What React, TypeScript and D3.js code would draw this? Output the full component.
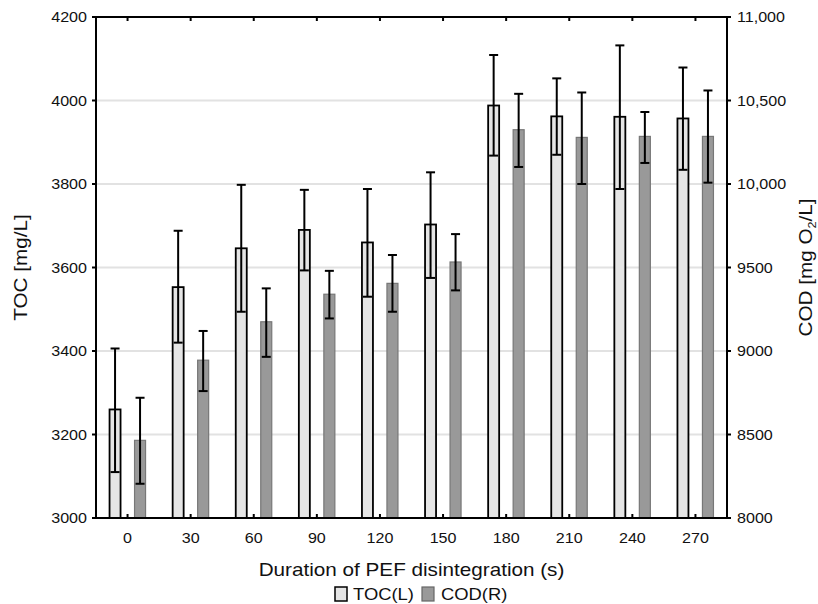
import React from "react";
import * as d3 from "d3";

// durations of PEF disintegration (s)
const categories = ["0", "30", "60", "90", "120", "150", "180", "210", "240", "270"];

// TOC, left axis (mg/L): mean and error bar ends
const toc = [3260, 3553, 3646, 3690, 3660, 3703, 3988, 3962, 3961, 3957];
const tocLo = [3110, 3420, 3494, 3593, 3530, 3575, 3868, 3870, 3788, 3834];
const tocHi = [3406, 3688, 3798, 3786, 3788, 3828, 4109, 4053, 4132, 4079];

// COD, right axis (mg O2/L)
const cod = [8465, 8945, 9175, 9340, 9405, 9533, 10325, 10279, 10285, 10285];
const codLo = [8205, 8760, 8965, 9195, 9235, 9363, 10102, 10000, 10126, 10008];
const codHi = [8720, 9120, 9375, 9480, 9575, 9700, 10540, 10548, 10431, 10560];

const leftTicks = [3000, 3200, 3400, 3600, 3800, 4000, 4200];
const rightTicks = [8000, 8500, 9000, 9500, 10000, 10500, 11000];

const W = 818;
const H = 604;
const m = { left: 96, right: 727, top: 17, bottom: 518 };
const FONT = "'Liberation Sans', Arial, sans-serif";
const SX = 1.15; // text looks a bit wider than plain Arial

const x = d3.scaleBand().domain(categories).range([m.left, m.right]).padding(0);
const yL = d3.scaleLinear().domain([3000, 4200]).range([m.bottom, m.top]);
const yR = d3.scaleLinear().domain([8000, 11000]).range([m.bottom, m.top]);

const fmtR = (v: number) => (v >= 10000 ? d3.format(",")(v) : String(v));

const barW = 11;
const offset = 12.5;
const capW = 9;

function T({ x, y, size, anchor = "start", rotate = 0, children }: any) {
  return (
    <text
      transform={`translate(${x},${y}) rotate(${rotate}) scale(${SX},1)`}
      fontSize={size}
      fontFamily={FONT}
      textAnchor={anchor}
      fill="#111"
    >
      {children}
    </text>
  );
}

function ErrBar({ cx, lo, hi }: { cx: number; lo: number; hi: number }) {
  return (
    <g stroke="#000" strokeWidth={2}>
      <line x1={cx} x2={cx} y1={lo} y2={hi} />
      <line x1={cx - capW / 2} x2={cx + capW / 2} y1={lo} y2={lo} />
      <line x1={cx - capW / 2} x2={cx + capW / 2} y1={hi} y2={hi} />
    </g>
  );
}

export default function App() {
  const bw = x.bandwidth();
  return (
    <svg
      width={W}
      height={H}
      style={{ position: "absolute", left: 0, top: 0, background: "#fff" }}
    >
      {/* grid */}
      {leftTicks.slice(1, -1).map((t) => (
        <line key={t} x1={m.left} x2={m.right} y1={yL(t)} y2={yL(t)} stroke="#e2e2e2" strokeWidth={2} />
      ))}

      {/* bars */}
      {categories.map((c, i) => {
        const cx = (x(c) as number) + bw / 2;
        const tx = cx - offset;
        const rx = cx + offset;
        return (
          <g key={c}>
            <rect
              x={tx - barW / 2}
              y={yL(toc[i])}
              width={barW}
              height={m.bottom - yL(toc[i])}
              fill="#e5e5e5"
              stroke="#000"
              strokeWidth={1.8}
            />
            <rect
              x={rx - barW / 2}
              y={yR(cod[i])}
              width={barW}
              height={m.bottom - yR(cod[i])}
              fill="#999"
              stroke="#777"
              strokeWidth={1.2}
            />
            <ErrBar cx={tx} lo={yL(tocLo[i])} hi={yL(tocHi[i])} />
            <ErrBar cx={rx} lo={yR(codLo[i])} hi={yR(codHi[i])} />
          </g>
        );
      })}

      {/* frame */}
      <rect
        x={m.left}
        y={m.top}
        width={m.right - m.left}
        height={m.bottom - m.top}
        fill="none"
        stroke="#000"
        strokeWidth={2}
      />

      {/* category ticks, inside top and bottom */}
      {categories.map((c) => {
        const cx = (x(c) as number) + bw / 2;
        return (
          <g key={c} stroke="#000" strokeWidth={2}>
            <line x1={cx} x2={cx} y1={m.top} y2={m.top + 4} />
            <line x1={cx} x2={cx} y1={m.bottom} y2={m.bottom - 4} />
          </g>
        );
      })}

      {/* left axis */}
      {leftTicks.map((t) => (
        <g key={t}>
          <line x1={m.left - 4} x2={m.left} y1={yL(t)} y2={yL(t)} stroke="#000" strokeWidth={2} />
          <T x={m.left - 9} y={yL(t) + 5} size={14} anchor="end">
            {t}
          </T>
        </g>
      ))}

      {/* right axis */}
      {rightTicks.map((t) => (
        <g key={t}>
          <line x1={m.right} x2={m.right + 4} y1={yR(t)} y2={yR(t)} stroke="#000" strokeWidth={2} />
          <T x={m.right + 10} y={yR(t) + 5} size={14}>
            {fmtR(t)}
          </T>
        </g>
      ))}

      {/* x labels */}
      {categories.map((c) => (
        <T key={c} x={(x(c) as number) + bw / 2} y={543} size={14} anchor="middle">
          {c}
        </T>
      ))}

      <T x={(m.left + m.right) / 2} y={576} size={18} anchor="middle">
        Duration of PEF disintegration (s)
      </T>

      <T x={27} y={(m.top + m.bottom) / 2} size={18} anchor="middle" rotate={-90}>
        TOC [mg/L]
      </T>

      <T x={812} y={(m.top + m.bottom) / 2} size={18} anchor="middle" rotate={-90}>
        COD [mg O<tspan fontSize={11} dy={4}>2</tspan>
        <tspan dy={-4}>/L]</tspan>
      </T>

      {/* legend */}
      <rect x={335} y={587} width={12} height={14} fill="#e5e5e5" stroke="#000" strokeWidth={1.5} />
      <T x={353} y={600} size={16}>
        TOC(L)
      </T>
      <rect x={422} y={587} width={12} height={14} fill="#999" stroke="#666" strokeWidth={1.2} />
      <T x={441} y={600} size={16}>
        COD(R)
      </T>
    </svg>
  );
}
